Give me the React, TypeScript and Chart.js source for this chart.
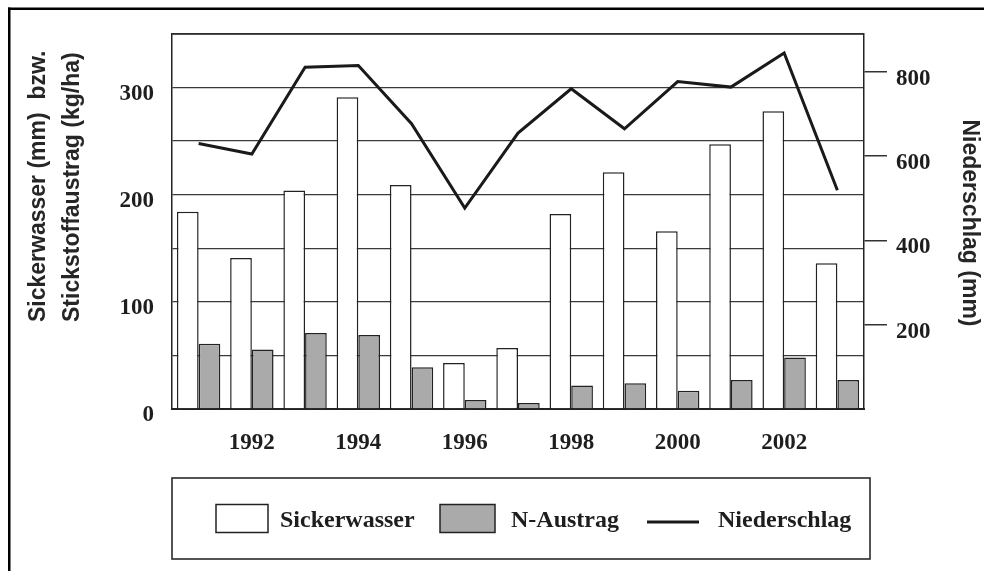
import React, { useEffect, useRef } from 'react';
import { Chart, registerables } from 'chart.js';

Chart.register(...registerables);

const years = ['1991', '1992', '1993', '1994', '1995', '1996', '1997', '1998', '1999', '2000', '2001', '2002', '2003'];
const sickerwasser = [184, 141, 204, 291, 209, 43, 57, 182, 221, 166, 247, 278, 136];
const nAustrag = [61, 55.5, 71, 69, 39, 8.5, 5.5, 22, 24, 17, 27, 48, 27];
const niederschlag = [630, 605, 811, 815, 677, 477, 655, 760, 665, 777, 764, 845, 519];
const leftTickLabels = [0, 100, 200, 300];
const rightTickLabels = [200, 400, 600, 800];
const leftTitle = ['Sickerwasser (mm)  bzw.', 'Stickstoffaustrag (kg/ha)'];
const rightTitle = 'Niederschlag (mm)';

const SERIF = '"Liberation Serif", "Times New Roman", serif';
const SANS = '"Liberation Sans", Arial, sans-serif';
const INK = '#1e1e1e';

const decorPlugin = {
  id: 'decor',
  afterDraw(chart: any) {
    const ctx: CanvasRenderingContext2D = chart.ctx;
    const ca = chart.chartArea;
    ctx.save();

    // outer frame (top and left edges)
    ctx.fillStyle = '#000';
    ctx.fillRect(8, 7.5, chart.width - 8, 2.5);
    ctx.fillRect(8, 7.5, 2.5, chart.height - 7.5);

    // top border of plot area
    ctx.strokeStyle = '#2a2a2a';
    ctx.lineWidth = 1.5;
    ctx.beginPath();
    ctx.moveTo(ca.left, ca.top);
    ctx.lineTo(ca.right, ca.top);
    ctx.stroke();

    // axis titles
    ctx.fillStyle = '#262626';
    ctx.font = `bold 23px ${SANS}`;
    ctx.textBaseline = 'alphabetic';
    const baseX = [45, 79];
    leftTitle.forEach((line, i) => {
      ctx.save();
      ctx.translate(baseX[i], 322);
      ctx.rotate(-Math.PI / 2);
      ctx.textAlign = 'left';
      ctx.fillText(line, 0, 0);
      ctx.restore();
    });
    ctx.save();
    ctx.translate(963, 223);
    ctx.rotate(Math.PI / 2);
    ctx.textAlign = 'center';
    ctx.fillText(rightTitle, 0, 0);
    ctx.restore();

    // legend
    const ds = chart.data.datasets;
    ctx.strokeStyle = '#2a2a2a';
    ctx.lineWidth = 1.6;
    ctx.strokeRect(172, 478, 698, 81);
    ctx.font = `bold 24px ${SERIF}`;
    ctx.textAlign = 'left';
    ctx.textBaseline = 'alphabetic';

    const swatches = [
      { d: ds[0], x: 216, w: 52, tx: 280 },
      { d: ds[1], x: 440, w: 55, tx: 511 },
    ];
    swatches.forEach((s) => {
      ctx.fillStyle = s.d.backgroundColor;
      ctx.fillRect(s.x, 504.5, s.w, 28);
      ctx.strokeStyle = s.d.borderColor;
      ctx.lineWidth = 1.5;
      ctx.strokeRect(s.x, 504.5, s.w, 28);
      ctx.fillStyle = INK;
      ctx.fillText(s.d.label, s.tx, 527);
    });
    ctx.strokeStyle = ds[2].borderColor;
    ctx.lineWidth = 3;
    ctx.beginPath();
    ctx.moveTo(647, 522);
    ctx.lineTo(699, 522);
    ctx.stroke();
    ctx.fillStyle = INK;
    ctx.fillText(ds[2].label, 718, 527);

    ctx.restore();
  },
};

export default function App() {
  const canvasRef = useRef<HTMLCanvasElement | null>(null);

  useEffect(() => {
    if (!canvasRef.current) return;
    const tickFont = { family: SERIF, size: 23, weight: 'bold' as const };
    const chart = new Chart(canvasRef.current, {
      type: 'bar',
      data: {
        labels: years,
        datasets: [
          {
            type: 'bar',
            label: 'Sickerwasser',
            data: sickerwasser,
            backgroundColor: '#ffffff',
            borderColor: '#222222',
            borderWidth: 1.5,
            yAxisID: 'y',
            order: 2,
            categoryPercentage: 0.815,
            barPercentage: 1,
          },
          {
            type: 'bar',
            label: 'N-Austrag',
            data: nAustrag,
            backgroundColor: '#aaaaaa',
            borderColor: '#222222',
            borderWidth: 1.5,
            yAxisID: 'y',
            order: 2,
            categoryPercentage: 0.815,
            barPercentage: 1,
          },
          {
            type: 'line',
            label: 'Niederschlag',
            data: niederschlag,
            borderColor: '#1a1a1a',
            backgroundColor: '#1a1a1a',
            borderWidth: 3,
            pointRadius: 0,
            tension: 0,
            fill: false,
            yAxisID: 'y2',
            order: 0,
          } as any,
        ],
      },
      options: {
        responsive: true,
        maintainAspectRatio: false,
        animation: false,
        layout: { padding: { top: 34, left: 0, right: 0, bottom: 0 } },
        plugins: {
          legend: { display: false },
          tooltip: { enabled: false },
          title: { display: false },
        },
        scales: {
          x: {
            grid: { display: false },
            border: { display: true, color: '#222', width: 2 },
            ticks: {
              autoSkip: false,
              maxRotation: 0,
              padding: 12,
              color: INK,
              font: tickFont,
              callback: (_v: any, i: number) => (i % 2 === 1 ? years[i] : ''),
            },
            afterFit: (s: any) => {
              s.height = 162;
            },
          },
          y: {
            position: 'left',
            min: 0,
            max: 350,
            grid: { color: '#3a3a3a', lineWidth: 1.3, drawTicks: false },
            border: { display: true, color: '#222', width: 1.5 },
            ticks: {
              stepSize: 50,
              padding: 18,
              labelOffset: 6,
              color: INK,
              font: tickFont,
              callback: (v: any) => (leftTickLabels.includes(Number(v)) ? String(v) : ''),
            },
            afterFit: (s: any) => {
              s.width = 172;
            },
          },
          y2: {
            position: 'right',
            min: 0,
            max: 890,
            grid: { drawOnChartArea: false, drawTicks: true, tickLength: 23, color: '#333', lineWidth: 1.5 },
            border: { display: true, color: '#222', width: 1.5 },
            ticks: {
              padding: 9,
              labelOffset: 7,
              color: INK,
              font: tickFont,
            },
            afterBuildTicks: (s: any) => {
              s.ticks = rightTickLabels.map((value) => ({ value }));
            },
            afterFit: (s: any) => {
              s.width = 120;
            },
          },
        },
      },
      plugins: [decorPlugin],
    } as any);
    return () => chart.destroy();
  }, []);

  return (
    <div style={{ position: 'fixed', left: 0, top: 0, width: '100vw', height: '100vh', background: '#fff' }}>
      <canvas ref={canvasRef} />
    </div>
  );
}
